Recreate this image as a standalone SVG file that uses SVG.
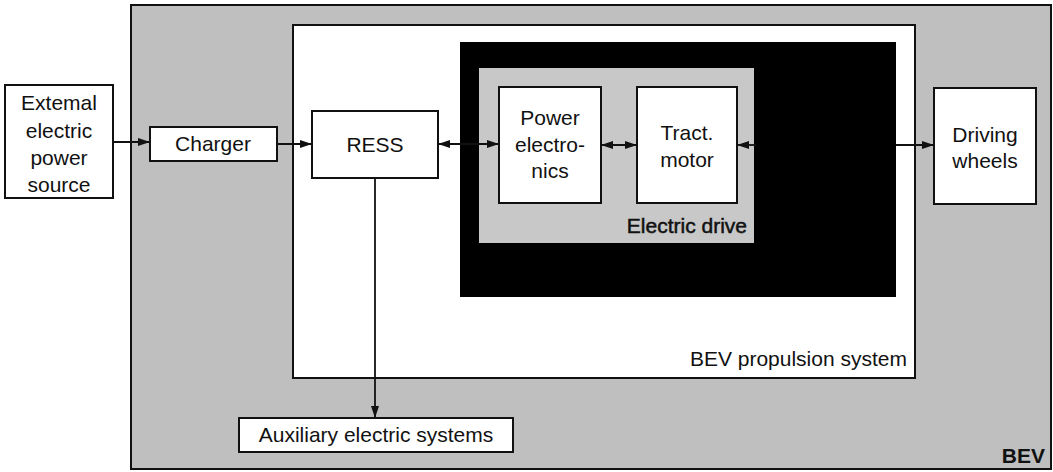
<svg xmlns="http://www.w3.org/2000/svg" width="1053" height="472" viewBox="0 0 1053 472">
<defs>
<marker id="ah" viewBox="0 0 12 8" refX="12" refY="4" markerWidth="12" markerHeight="8" markerUnits="userSpaceOnUse" orient="auto-start-reverse">
<path d="M0,0 L12,4 L0,8 Z" fill="#111"/>
</marker>
</defs>
<style>
.box{fill:#fff;stroke:#111;stroke-width:2}
.grey{fill:#bfbfbf;stroke:#111;stroke-width:2}
.t{font-family:"Liberation Sans",Arial,sans-serif;font-size:21px;fill:#111;text-anchor:middle}
.lbl{font-family:"Liberation Sans",Arial,sans-serif;font-size:21px;fill:#111}
.c{stroke:#111;stroke-width:1.8;fill:none}
</style>
<rect width="1053" height="472" fill="#fff"/>
<g id="bev">
<rect class="grey" x="131" y="5" width="920" height="464"/>
<text class="lbl" x="1045" y="463" text-anchor="end" font-weight="bold" font-size="20">BEV</text>
</g>
<g id="propulsion">
<rect class="box" x="293" y="25" width="622" height="353"/>
<text class="lbl" x="907" y="366" text-anchor="end">BEV propulsion system</text>
</g>
<g id="blackbox">
<rect x="460" y="42" width="436" height="255" fill="#000"/>
</g>
<g id="electric-drive">
<rect x="479" y="68" width="275" height="175" fill="#c8c8c8"/>
<text class="lbl" x="747" y="233" text-anchor="end" stroke="#111" stroke-width="0.5">Electric drive</text>
</g>
<g id="external">
<rect class="box" x="5" y="85" width="108" height="113"/>
<text class="t" x="59" y="110">Extemal</text>
<text class="t" x="59" y="138">electric</text>
<text class="t" x="59" y="165">power</text>
<text class="t" x="59" y="192">source</text>
</g>
<g id="charger">
<rect class="box" x="150" y="127" width="127" height="34"/>
<text class="t" x="213" y="151">Charger</text>
</g>
<g id="ress">
<rect class="box" x="312" y="111" width="126" height="67"/>
<text class="t" x="375" y="152">RESS</text>
</g>
<g id="power-electronics">
<rect class="box" x="499" y="87" width="102" height="116"/>
<text class="t" x="550" y="125">Power</text>
<text class="t" x="550" y="152">electro-</text>
<text class="t" x="550" y="178">nics</text>
</g>
<g id="tract-motor">
<rect class="box" x="637" y="87" width="100" height="116"/>
<text class="t" x="687" y="140">Tract.</text>
<text class="t" x="687" y="167">motor</text>
</g>
<g id="driving-wheels">
<rect class="box" x="934" y="88" width="102" height="116"/>
<text class="t" x="985" y="142">Driving</text>
<text class="t" x="985" y="168">wheels</text>
</g>
<g id="auxiliary">
<rect class="box" x="239" y="418" width="274" height="34"/>
<text class="t" x="376" y="442">Auxiliary electric systems</text>
</g>
<g id="connectors">
<line class="c" x1="113" y1="142" x2="150" y2="142" marker-end="url(#ah)"/>
<line class="c" x1="277" y1="144" x2="312" y2="144" marker-end="url(#ah)"/>
<line class="c" x1="438" y1="144" x2="499" y2="144" marker-start="url(#ah)" marker-end="url(#ah)"/>
<line class="c" x1="601" y1="145" x2="637" y2="145" marker-start="url(#ah)" marker-end="url(#ah)"/>
<line x1="737" y1="145" x2="756" y2="145" stroke="#111" stroke-width="1.8" marker-start="url(#ah)"/>
<line class="c" x1="896" y1="145" x2="934" y2="145" marker-end="url(#ah)"/>
<line class="c" x1="375" y1="178" x2="375" y2="418" marker-end="url(#ah)"/>
</g>
</svg>
